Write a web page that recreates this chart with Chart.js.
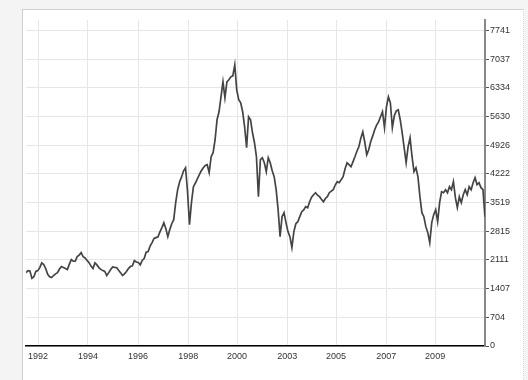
<!DOCTYPE html>
<html>
<head>
<meta charset="utf-8">
<script src="https://cdn.jsdelivr.net/npm/chart.js@4.4.0/dist/chart.umd.min.js"></script>
<style>
  html, body { margin: 0; padding: 0; background: #f4f4f4; }
  #wrap { position: relative; width: 528px; height: 380px; overflow: hidden; }
  #panel {
    position: absolute; left: 22px; top: 9px; width: 500px; height: 380px;
    background: #fff;
    border-top: 1px solid #cfcfcf; border-left: 1px solid #cfcfcf;
    border-right: 1px dotted #d6d6d6;
  }
  #indexChart { position: absolute; left: 0; top: 0; }
</style>
</head>
<body>
<div id="wrap">
  <div id="panel"></div>
  <canvas id="indexChart" width="528" height="380"></canvas>
</div>
<script>
// ============================
// data (monthly readings, first month = Jan 1992)
// ============================
const startYear = 1992;
const closes = [
  1800, 1850, 1840, 1660, 1700, 1830, 1850, 1924, 2040, 2000,
  1900, 1760, 1700, 1680, 1730, 1770, 1800, 1890, 1950, 1924,
  1900, 1875, 2010, 2120, 2080, 2080, 2194, 2230, 2290, 2190,
  2160, 2100, 2046, 1960, 1900, 2040, 1990, 1924, 1880, 1850,
  1830, 1728, 1800, 1875, 1940, 1930, 1924, 1860, 1800, 1728,
  1770, 1830, 1900, 1950, 1965, 2096, 2060, 2050, 1990, 2100,
  2145, 2300, 2316, 2450, 2537, 2640, 2660, 2680, 2800, 2905,
  3027, 2880, 2684, 2856, 3000, 3100, 3517, 3836, 4032, 4150,
  4300, 4375, 3800, 2978, 3517, 3909, 4000, 4100, 4204, 4300,
  4375, 4430, 4449, 4253, 4645, 4743, 5062, 5552, 5748, 6116,
  6483, 6091, 6483, 6532, 6606, 6630, 6900, 6287, 6042, 5968,
  5748, 5380, 4865, 5626, 5552, 5233, 4988, 4645, 3664, 4571,
  4620, 4498, 4277, 4620, 4498, 4300, 4155, 3836, 3345, 2684,
  3174, 3272, 3027, 2807, 2684, 2414, 2807, 3000, 3050, 3174,
  3297, 3340, 3419, 3394, 3541, 3650, 3713, 3762, 3700, 3664,
  3600, 3541, 3620, 3664, 3762, 3800, 3836, 3950, 4032, 4007,
  4080, 4155, 4350, 4498, 4450, 4400, 4520, 4645, 4780, 4890,
  5100, 5258, 5000, 4694, 4816, 5012, 5150, 5300, 5420, 5500,
  5626, 5748, 5356, 5870, 6116, 5968, 5356, 5650, 5770, 5797,
  5552, 5233, 4865, 4498, 4890, 5110, 4645, 4277, 4375, 4150,
  3664, 3272, 3174, 2929, 2782, 2537, 3027, 3223, 3345, 3052,
  3517, 3787, 3762, 3836, 3762, 3909, 3836, 4032, 3640, 3394,
  3664, 3517, 3713, 3836, 3713, 3909, 3836, 4007, 4130, 3958,
  4007, 3885, 3836, 3174
];

// x tick positions (fractional years) and their labels
const xTickYears = [1992.51, 1994.62, 1996.74, 1998.86, 2000.93, 2003.05, 2005.12, 2007.24, 2009.31];
const xTickLabels = ["1992", "1994", "1996", "1998", "2000", "2003", "2005", "2007", "2009"];

// y tick values
const yTicks = [0, 704, 1407, 2111, 2815, 3519, 4222, 4926, 5630, 6334, 7037, 7741];

// ============================
// chart
// ============================
const points = closes.map((v, i) => ({ x: startYear + i / 12, y: v }));
const tickFont = { family: "'Liberation Sans', Arial, sans-serif", size: 9 };

new Chart(document.getElementById("indexChart"), {
  type: "line",
  data: {
    datasets: [{
      data: points,
      borderColor: "#444",
      borderWidth: 1.7,
      pointRadius: 0,
      tension: 0,
      fill: false
    }]
  },
  options: {
    responsive: false,
    animation: false,
    layout: { padding: { left: 26, top: 20, right: 7, bottom: 0 } },
    plugins: { legend: { display: false }, tooltip: { enabled: false } },
    scales: {
      x: {
        type: "linear",
        min: 1992,
        max: 2011.42,
        afterBuildTicks: s => { s.ticks = xTickYears.map(v => ({ value: v })); },
        afterFit: s => { s.height = 34; },
        ticks: {
          callback: (v, i) => xTickLabels[i],
          color: "#333",
          font: tickFont,
          padding: 5,
          maxRotation: 0,
          autoSkip: false
        },
        grid: { color: "#e6e6e6", drawTicks: false },
        border: { color: "#000", width: 1.5 }
      },
      y: {
        position: "right",
        min: 0,
        max: 8000,
        afterBuildTicks: s => { s.ticks = yTicks.map(v => ({ value: v })); },
        afterFit: s => { s.width = 36; },
        ticks: {
          callback: v => String(v),
          color: "#333",
          font: tickFont,
          padding: 1,
          autoSkip: false
        },
        grid: { color: "#e6e6e6", tickColor: "#555", tickLength: 4 },
        border: { color: "#888", width: 2 }
      }
    }
  }
});
</script>
</body>
</html>
